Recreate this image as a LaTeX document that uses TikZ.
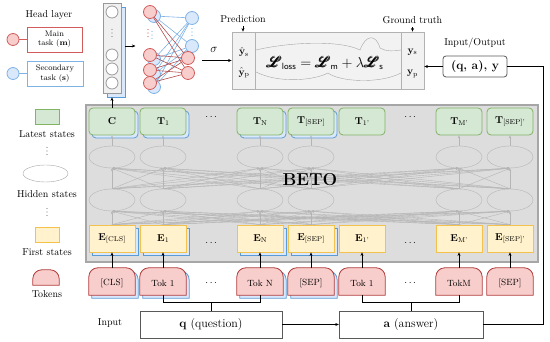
\documentclass[tikz,border=0pt]{standalone}
\usepackage{amsmath,amssymb}
\usepackage{mathrsfs}
\usepackage{xcolor}
\usepackage{tikz}
\usetikzlibrary{positioning,backgrounds,arrows.meta,shapes.geometric}

\definecolor{gfill}{HTML}{D5E8D4}
\definecolor{gline}{HTML}{82B366}
\definecolor{yfill}{HTML}{FFF2CC}
\definecolor{yline}{HTML}{F2C14E}
\definecolor{rfill}{HTML}{F8CECC}
\definecolor{rline}{HTML}{B03A3A}
\definecolor{bfill}{HTML}{DAE8FC}
\definecolor{bline}{HTML}{5B9BD5}
\definecolor{netred}{HTML}{D25B5B}
\definecolor{netblue}{HTML}{7FB2E5}
\definecolor{betofill}{HTML}{DDDDDD}
\definecolor{hidline}{HTML}{B5B5B5}

\newcommand{\vsub}[2]{\textbf{#1}\raisebox{-0.2ex}{\scriptsize #2}}
\newcommand{\bigL}{\pmb{\mathscr{L}}}
\newcommand{\tokshape}[2]{%
  \draw[#2] (#1.south west) -- ([yshift=-9pt]#1.north west)
    arc[start angle=180,end angle=90,radius=9pt] -- ([xshift=-9pt]#1.north east)
    arc[start angle=90,end angle=0,radius=9pt] -- (#1.south east) -- cycle;}
% three small dots in a column
\newcommand{\dotcol}[3]{%
  \foreach \d in {-3.5,0,3.5} \fill[#3] (#1,#2+\d) circle[radius=0.6pt];}

\tikzset{
  cell/.style={minimum width=46pt, minimum height=27pt, inner sep=0pt},
  greenbox/.style={cell, draw=gline, fill=gfill, thick, rounded corners=4pt},
  yellowbox/.style={cell, draw=yline, fill=yfill, thick},
  blueshadow/.style={cell, draw=bline, fill=bfill, thick},
  tokbox/.style={cell, font=\small},
  hidden/.style={draw=hidline, ellipse, minimum width=46pt, minimum height=22pt, inner sep=0pt},
  hidarrow/.style={hidline, -{Stealth[length=3pt,width=2.5pt]}, line width=0.4pt},
  smallarrow/.style={-{Stealth[length=3.5pt,width=3pt]}, line width=0.5pt},
  redcirc/.style={circle, draw=netred, fill=rfill, thick, minimum size=13pt, inner sep=0pt},
  bluecirc/.style={circle, draw=netblue, fill=bfill, thick, minimum size=13pt, inner sep=0pt},
  whitecirc/.style={circle, draw=gray!80, fill=white, thick, minimum size=12pt, inner sep=0pt},
  inbox/.style={draw=gray!70!black, minimum height=27pt, font=\large},
}

\begin{document}
\begin{tikzpicture}[x=1pt, y=1pt]
\useasboundingbox (0,0) rectangle (550,342);

% legend
\node (headlbl) at (49,327) {Head layer};
\node[draw=netred, thick, minimum width=55pt, minimum height=25pt, align=center, font=\footnotesize, inner sep=1pt] (mainbox) at (54.5,302.5) {Main\\task (\textbf{m})};
\node[redcirc, minimum size=12pt] (maincirc) at (13,302.5) {};
\draw[netred, thick] (maincirc) -- (mainbox);
\node[draw=netblue, thick, minimum width=56pt, minimum height=25pt, align=center, font=\footnotesize, inner sep=1pt] (secbox) at (55,268.5) {Secondary\\task (\textbf{s})};
\node[bluecirc, minimum size=12pt] (seccirc) at (13,268.5) {};
\draw[netblue, thick] (seccirc) -- (secbox);

\node[draw=gline, fill=gfill, thick, minimum width=24pt, minimum height=15pt] (lgreen) at (47,225.5) {};
\node (llatest) at (47,208) {Latest states};
\dotcol{47}{191}{gray}
\node[draw=gray!70, ellipse, minimum width=45pt, minimum height=17pt] (lhid) at (45.5,168.5) {};
\node (lhidden) at (47,148) {Hidden states};
\dotcol{47}{130}{gray}
\node[draw=yline, fill=yfill, thick, minimum width=24pt, minimum height=15pt] (lyellow) at (47,107.5) {};
\node (lfirst) at (47,90) {First states};
\node[minimum width=26pt, minimum height=15pt, inner sep=0pt] (ltok) at (46,64.5) {};
\tokshape{ltok}{draw=rline, fill=rfill, thick}
\node (ltokens) at (47,48) {Tokens};
\node (linput) at (110,19) {Input};

% BETO block
\node[draw=gray!70, fill=betofill, line width=1.2pt, minimum width=452pt, minimum height=157pt] (beto) at (312,158.5) {};

% shadows (question part)
\foreach \x/\n in {112/1,163/2,260/3,311/4} {
  \node[blueshadow, rounded corners=4pt] (ts\n) at (\x+3,217.5) {};
  \node[blueshadow] (es\n) at (\x+3,100.5) {};
  \node[tokbox] (ks\n) at (\x+3,57.5) {};
  \tokshape{ks\n}{draw=bline, fill=bfill, thick}
}

% latest / first states and tokens
\foreach \x/\n/\t/\e/\k in {112/1/\textbf{C}/{\vsub{E}{[CLS]}}/{[CLS]},
    163/2/{\vsub{T}{1}}/{\vsub{E}{1}}/{Tok 1},
    260/3/{\vsub{T}{N}}/{\vsub{E}{N}}/{Tok N},
    311/4/{\vsub{T}{[SEP]}}/{\vsub{E}{[SEP]}}/{[SEP]},
    362/5/{\vsub{T}{1'}}/{\vsub{E}{1'}}/{Tok 1},
    459/6/{\vsub{T}{M'}}/{\vsub{E}{M'}}/{TokM},
    510/7/{\vsub{T}{[SEP]'}}/{\vsub{E}{[SEP]'}}/{[SEP]}} {
  \node[greenbox] (t\n) at (\x,220.5) {\t};
  \node[yellowbox] (e\n) at (\x,103.5) {\e};
  \node[tokbox] (k\n) at (\x,60.5) {};
  \tokshape{k\n}{draw=rline, fill=rfill, thick}
  \node[tokbox] (kl\n) at (\x,59) {\k};
  \draw[smallarrow] (k\n.north) -- (e\n.south);
}
\foreach \x/\n in {212/a,411/b} {
  \node (tdots\n) at (\x,225) {$\cdots$};
  \node (edots\n) at (\x,99) {$\cdots$};
  \node (kdots\n) at (\x,59) {$\cdots$};
}

% hidden states
\foreach \x/\n in {112/1,163/2,260/3,311/4,459/6,510/7} {
  \node[hidden] (ha\n) at (\x,142) {};
  \node[hidden] (hb\n) at (\x,185) {};
  \draw[hidarrow] (hb\n.north) -- (t\n.south);
}
\foreach \i in {1,2,3,4,6,7} {
  \foreach \j in {1,2,3,4,6,7} {
    \draw[hidarrow] (e\j.north) -- (ha\i.south);
    \draw[hidarrow] (ha\j.north) -- (hb\i.south);
  }
}
\node[font=\LARGE\bfseries] (betotxt) at (310,162) {BETO};

% input boxes
\node[inbox, minimum width=142pt] (qbox) at (211,17.5) {\textbf{q} (question)};
\node[inbox, minimum width=144pt] (abox) at (411,17.5) {\textbf{a} (answer)};
\draw[smallarrow] (qbox) -- (abox);
\draw (k2.south) -- ++(0,-7) coordinate (qb) -| (k3.south);
\draw (qbox.north) -- (qbox.north |- qb);
\draw (k5.south) -- ++(0,-7) coordinate (ab) -| (k6.south);
\draw (abox.north) -- (abox.north |- ab);

% head layer network
\node[blueshadow, minimum width=18pt, minimum height=90pt] (colsh) at (116,290) {};
\node[draw=gray!80, fill=gray!12, thick, minimum width=18pt, minimum height=90pt, inner sep=0pt] (col) at (112,294) {};
\foreach \y/\n in {330/1,287/2,273/3,259/4} \node[whitecirc] (c\n) at (112,\y) {};
\dotcol{112}{309}{gray}
\draw[smallarrow] (t1.north) -- (t1.north |- colsh.south);
\draw[smallarrow] ([yshift=6pt]colsh.east) -- ++(10,0);

\foreach \y/\n in {330/1,287/2,272/3,259/4} \node[bluecirc] (lb\n) at (154,\y-4) {};
\node[bluecirc] (rb1) at (192,324) {};
\node[bluecirc] (rb2) at (192,296) {};
\begin{scope}[on background layer]
\foreach \i in {1,2,3,4} {
  \draw[netblue, line width=0.6pt] (lb\i) -- (rb1);
  \draw[netblue, line width=0.6pt] (lb\i) -- (rb2);
}
\end{scope}
\foreach \y/\n in {330/1,287/2,272/3,259/4} \node[redcirc] (lr\n) at (150,\y) {};
\node[redcirc] (rr1) at (188,284) {};
\node[redcirc] (rr2) at (188,269) {};
\foreach \i in {1,2,3,4} {
  \draw[netred!85!black, line width=0.6pt] (lr\i) -- (rr1);
  \draw[netred!85!black, line width=0.6pt] (lr\i) -- (rr2);
}
\dotcol{152}{307}{netblue}
\dotcol{148}{309}{netred}
\dotcol{192}{310}{netblue}

% loss
\node[draw=gray!60, fill=gray!10, thick, minimum width=192pt, minimum height=57pt] (loss) at (328,281.5) {};
\draw[gray!60, thick] ([xshift=24pt]loss.north west) -- ([xshift=24pt]loss.south west);
\draw[gray!60, thick] ([xshift=-23pt]loss.north east) -- ([xshift=-23pt]loss.south east);
\draw[gray!70] (256,292) .. controls (290,300) and (340,302) .. (360,292)
  .. controls (366,308) and (376,308) .. (380,294) .. controls (386,290) and (395,291) .. (401,292);
\draw[gray!70] (256,270) .. controls (280,258) and (315,262) .. (328,269)
  .. controls (340,260) and (380,258) .. (401,269);
\node[font=\Large] (formula) at (325,279) {$\bigL_{\textsf{\small loss}} = \bigL_{\textsf{\small m}} + \lambda\bigL_{\textsf{\small s}}$};
\node (yhs) at (244,290) {$\hat{\mathbf{y}}_{\mathrm{s}}$};
\node (yhp) at (244,269) {$\hat{\mathbf{y}}_{\mathrm{p}}$};
\node (ys) at (412.5,290) {$\mathbf{y}_{\mathrm{s}}$};
\node (yp) at (412.5,268) {$\mathbf{y}_{\mathrm{p}}$};
\node (pred) at (243,323) {Prediction};
\draw[smallarrow] (pred.south) -- (pred.south |- loss.north);
\node (truth) at (412.5,322) {Ground truth};
\draw[smallarrow] (truth.south) -- (truth.south |- loss.north);
\node[font=\large] (sigma) at (214,292) {$\sigma$};
\coordinate (sigstart) at (202,281.5);
\draw[smallarrow] (sigstart) -- (loss.west);

% input/output
\node (iolbl) at (475,299) {Input/Output};
\node[draw=gray!70!black, thick, rounded corners=3pt, minimum width=64pt, minimum height=21pt, font=\large\bfseries] (qa) at (475,275.5) {(q, a), y};
\draw[smallarrow] (qa.west) -- (qa.west -| loss.east);
\coordinate (turn) at (543,275.5);
\draw (qa.east) -- (turn) |- (abox.east);
\end{tikzpicture}
\end{document}
